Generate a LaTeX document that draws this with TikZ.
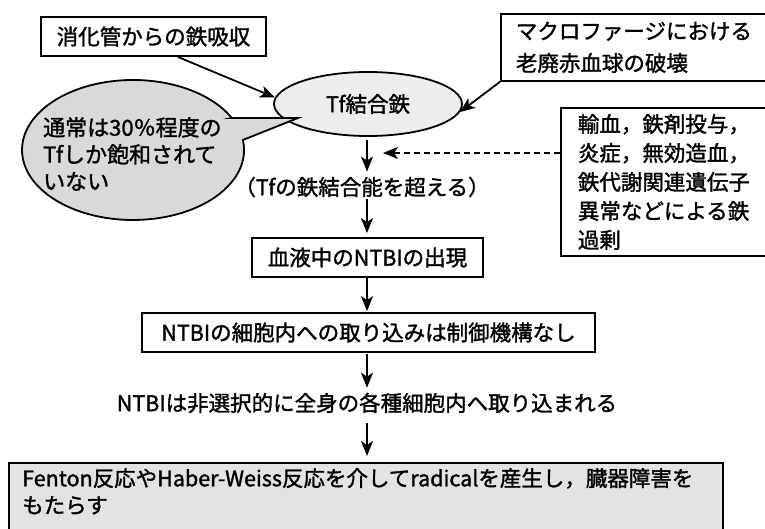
\documentclass[tikz,border=0pt]{standalone}
\usepackage{fontspec}
\setmainfont{Noto Sans CJK JP}[FakeBold=1.5]
\usetikzlibrary{arrows.meta,shapes.geometric}
\begin{document}
\begin{tikzpicture}[x=1pt,y=-1pt,
  every node/.style={font=\fontsize{21.5}{29}\selectfont, inner sep=2pt},
  box/.style={draw, line width=1.8pt, rectangle, inner sep=0pt},
  arr/.style={-{Stealth[length=15pt,width=12pt,inset=4pt]}, line width=1.8pt},
  dashline/.style={dash pattern=on 6pt off 4pt}]
\useasboundingbox (0,0) rectangle (765,529);
\fill[white] (0,0) rectangle (765,529);
\clip (0,0) rectangle (765,529);

% top boxes
\node[box, minimum width=225, minimum height=39] (b1) at (153.5,36.5) {消化管からの鉄吸収};
\node[box, anchor=north west, minimum height=67, text width=260, inner xsep=15pt, align=left,
      font=\fontsize{21.5}{32}\selectfont] (b2) at (500,13) {マクロファージにおける\\老廃赤血球の破壊};

% Tf ellipse
\node[draw, ellipse, line width=1.8pt, fill=gray!14, minimum width=188, minimum height=64, inner sep=0pt] (e) at (368,104) {Tf結合鉄};

% speech bubble
\draw[line width=1.8pt, fill=gray!30] (231.7,118) -- (298,118) -- (242.9,140)
   arc[start angle=-8.2, end angle=332.8, x radius=111, y radius=70] -- cycle;
\node[anchor=north west, align=left, inner sep=0pt, font=\fontsize{22}{27}\selectfont] (bt) at (43,117) {通常は30％程度の\\Tfしか飽和されて\\いない};

% right box
\node[box, anchor=north west, text width=260, inner xsep=17pt, minimum height=148, align=left] (b3) at (560,107)
  {輸血，鉄剤投与，\\炎症，無効造血，\\鉄代謝関連遺伝子\\異常などによる鉄\\過剰};

% flow
\node (t1) at (362,187) {（Tfの鉄結合能を超える）};
\node[box, minimum width=231, minimum height=39] (nb) at (367.5,257.5) {血液中のNTBIの出現};
\node[box, minimum width=453, minimum height=39] (b5) at (368.5,332.5) {NTBIの細胞内への取り込みは制御機構なし};
\node (t2) at (367,403) {NTBIは非選択的に全身の各種細胞内へ取り込まれる};
\node[box, fill=gray!22, anchor=north west, minimum width=714, minimum height=100] (fb) at (8,462) {};
\node[anchor=north west, align=left, inner sep=0pt, font=\fontsize{21.5}{27}\selectfont] (ft) at (22,468)
  {Fenton反応やHaber-Weiss反応を介してradicalを産生し，臓器障害を\\もたらす};

% connectors
\coordinate (ax) at (367,0);
\coordinate (dt) at (383,153);
\draw[arr] (b1.-40) -- (e.176);
\draw[arr] (b2.south west) -- (e.-5);
\draw[arr, shorten <=3pt, shorten >=3pt] (e.south -| ax) -- (t1.north -| ax);
\draw[arr, dashline] (b3.west |- dt) -- (dt);
\draw[arr, shorten >=4pt] (t1.south -| ax) -- (nb.north -| ax);
\draw[arr, shorten >=1pt] (nb.south -| ax) -- (b5.north -| ax);
\draw[arr, shorten >=3pt, shorten <=1pt] (b5.south -| ax) -- (t2.north -| ax);
\draw[arr, shorten <=8pt, shorten >=6pt] (t2.south -| ax) -- (fb.north -| ax);
\end{tikzpicture}
\end{document}
